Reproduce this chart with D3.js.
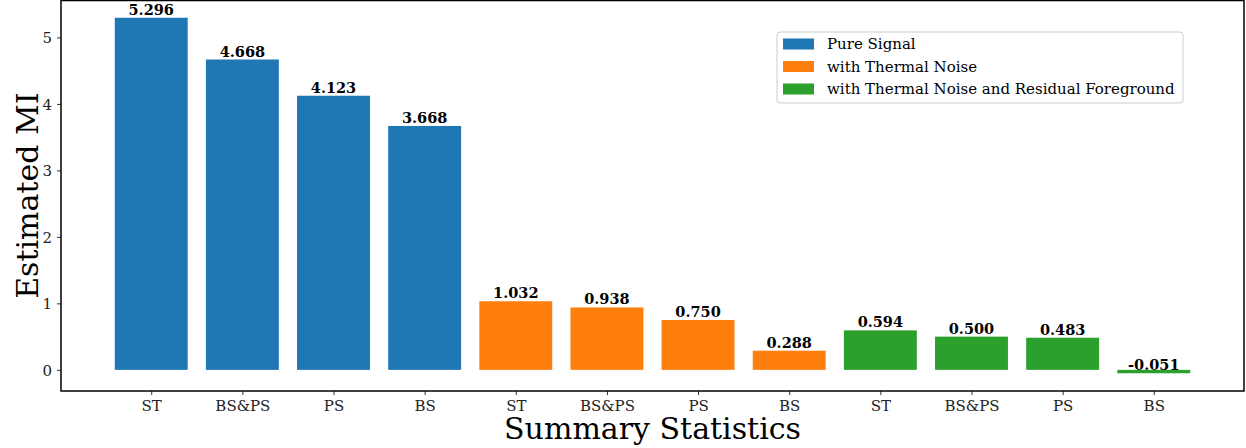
<!DOCTYPE html>
<html>
<head>
<meta charset="utf-8">
<script src="https://cdn.jsdelivr.net/npm/d3@7"></script>
<style>
  body { margin: 0; background: #fff; }
  svg { display: block; font-family: "DejaVu Serif", serif; }
</style>
</head>
<body>
<svg id="chart"></svg>
<script>
// chart data
const statistics = ['ST', 'BS&PS', 'PS', 'BS'];
const groups = ['Pure Signal', 'with Thermal Noise', 'with Thermal Noise and Residual Foreground'];
const pureSignal = [5.296, 4.668, 4.123, 3.668];
const thermalNoise = [1.032, 0.938, 0.750, 0.288];
const residualForeground = [0.594, 0.500, 0.483, -0.051];
const yTicks = [0, 1, 2, 3, 4, 5];
const colors = ['#1f77b4', '#ff7f0e', '#2ca02c'];

const seriesValues = [pureSignal, thermalNoise, residualForeground];
const bars = [];
seriesValues.forEach((vals, g) => {
  vals.forEach((v, i) => {
    bars.push({idx: g * statistics.length + i, label: statistics[i], value: v, group: g});
  });
});

const W = 1246, H = 448;
const margin = {top: 0, right: 2, bottom: 57, left: 61};
const width = W - margin.left - margin.right;
const height = H - margin.top - margin.bottom;

const svg = d3.select('#chart').attr('width', W).attr('height', H);
const chart = svg.append('g').attr('transform', `translate(${margin.left},${margin.top})`);

// numeric x like matplotlib, bar width 0.8
const xScale = d3.scaleLinear().domain([-0.99, bars.length - 1 + 0.99]).range([0, width]);
const yScale = d3.scaleLinear().domain([-0.318, 5.563]).range([height, 0]);
const bw = xScale(0.8) - xScale(0);

chart.selectAll('rect.bar')
  .data(bars)
  .join('rect')
    .attr('class', 'bar')
    .attr('x', d => xScale(d.idx - 0.4))
    .attr('y', d => yScale(Math.max(0, d.value)))
    .attr('width', bw)
    .attr('height', d => Math.abs(yScale(d.value) - yScale(0)))
    .attr('fill', d => colors[d.group]);

chart.selectAll('text.val')
  .data(bars)
  .join('text')
    .attr('class', 'val')
    .attr('x', d => xScale(d.idx))
    .attr('y', d => yScale(d.value) - 3)
    .attr('text-anchor', 'middle')
    .attr('font-weight', 'bold')
    .attr('font-size', 14.5)
    .attr('fill', '#000')
    .text(d => d.value.toFixed(3));

// axes
const xAxis = d3.axisBottom(xScale)
  .tickValues(bars.map(d => d.idx))
  .tickFormat(i => bars[i].label)
  .tickSize(4).tickPadding(5);
const yAxis = d3.axisLeft(yScale)
  .tickValues(yTicks)
  .tickFormat(d3.format('d'))
  .tickSize(4).tickPadding(5);

const xAxisG = chart.append('g').attr('transform', `translate(0,${height})`).call(xAxis);
const yAxisG = chart.append('g').call(yAxis);
[xAxisG, yAxisG].forEach(g => {
  g.selectAll('.domain').remove();
  g.selectAll('text').attr('font-size', 15).attr('font-family', '"DejaVu Serif", serif').attr('fill', '#222');
  g.selectAll('line').attr('stroke', '#333');
});
yAxisG.selectAll('text').attr('dy', '0.35em');

// frame
chart.append('rect')
  .attr('x', 0).attr('y', 0.5)
  .attr('width', width).attr('height', height - 0.5)
  .attr('fill', 'none').attr('stroke', '#000').attr('stroke-width', 1.5);

// axis titles
svg.append('text')
  .attr('x', margin.left + width / 2)
  .attr('y', 439)
  .attr('text-anchor', 'middle')
  .attr('font-size', 30)
  .text('Summary Statistics');

svg.append('text')
  .attr('transform', `translate(38,${yScale(2.62)}) rotate(-90)`)
  .attr('text-anchor', 'middle')
  .attr('font-size', 30)
  .text('Estimated MI');

// legend
const legend = svg.append('g').attr('transform', 'translate(777,32)');
legend.append('rect')
  .attr('width', 406).attr('height', 71).attr('rx', 3)
  .attr('fill', '#fff').attr('stroke', '#ccc');
groups.forEach((name, i) => {
  const row = legend.append('g').attr('transform', `translate(6,${12 + i * 22.5})`);
  row.append('rect').attr('x', 0).attr('y', -5.5).attr('width', 31).attr('height', 11).attr('fill', colors[i]);
  row.append('text').attr('x', 44).attr('y', 0).attr('dy', '0.35em')
    .attr('font-size', 15).text(name);
});
</script>
</body>
</html>
